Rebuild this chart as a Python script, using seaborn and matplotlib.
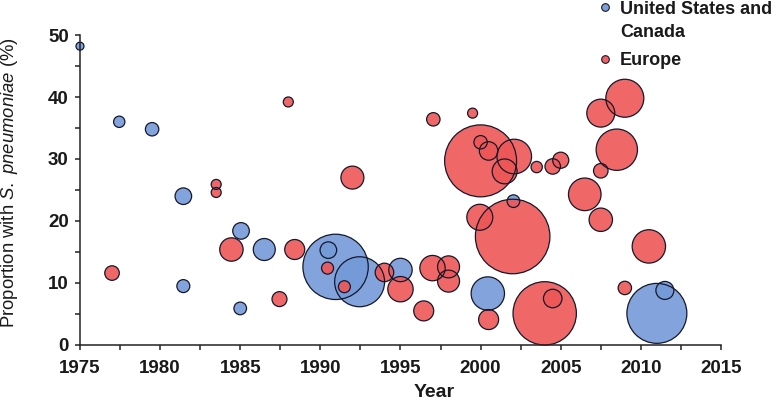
import numpy as np
import pandas as pd
import matplotlib
matplotlib.use("Agg")
import matplotlib.pyplot as plt
from matplotlib.lines import Line2D
from matplotlib.ticker import MultipleLocator
import seaborn as sns

# 1. Data: study year, proportion (%) and relative study size (bubble area)
regions = ["United States and Canada", "Europe"]

us_year = [1975.0, 1977.45, 1979.5, 1981.45, 1981.45, 1985.05, 1985.0, 1986.5,
           1990.95, 1992.45, 1990.5, 1995.0, 2000.45, 2002.05, 2011.0, 2011.5]
us_pct = [48.2, 36.0, 34.8, 24.0, 9.5, 18.4, 5.9, 15.4,
          12.6, 10.2, 15.3, 12.1, 8.3, 23.2, 5.1, 8.8]
us_size = [16, 32, 45, 69, 42, 69, 40, 121,
           1069, 625, 69, 137, 279, 40, 900, 81]

eu_year = [1977.0, 1983.5, 1983.5, 1984.45, 1987.45, 1988.0, 1988.4, 1990.45,
           1991.5, 1992.0, 1994.0, 1995.0, 1996.45, 1997.0, 1997.05, 1998.0,
           1998.0, 1999.5, 2000.0, 2000.0, 2000.5, 2002.1, 2001.5, 2003.5,
           2004.5, 2005.0, 1999.95, 2002.0, 2000.5, 2004.0, 2004.5, 2006.5,
           2007.5, 2007.5, 2009.0, 2008.5, 2007.5, 2010.5, 2009.0]
eu_pct = [11.6, 25.9, 24.6, 15.4, 7.4, 39.2, 15.4, 12.4,
          9.4, 27.0, 11.7, 9.0, 5.5, 12.4, 36.4, 12.6,
          10.3, 37.4, 29.7, 32.7, 31.3, 30.4, 28.0, 28.7,
          28.8, 29.8, 20.6, 17.5, 4.1, 5.1, 7.5, 24.3,
          20.2, 37.4, 39.8, 31.5, 28.1, 15.9, 9.2]
eu_size = [53, 25, 25, 137, 56, 25, 100, 36,
           36, 132, 86, 161, 100, 161, 45, 121,
           121, 25, 1296, 45, 86, 300, 155, 32,
           60, 65, 169, 1391, 100, 1005, 86, 266,
           137, 196, 361, 428, 53, 279, 45]

BLUE = "#7499D8"
RED = "#EE5656"
EDGE = "#15182a"

us = pd.DataFrame({"year": us_year, "pct": us_pct, "n": us_size}).sort_values("n", ascending=False)
eu = pd.DataFrame({"year": eu_year, "pct": eu_pct, "n": eu_size}).sort_values("n", ascending=False)
both = pd.concat([us, eu])

# 2. Style
sns.set_style("ticks")
plt.rcParams["font.family"] = ["Liberation Sans", "DejaVu Sans"]
plt.rcParams["mathtext.fontset"] = "custom"
plt.rcParams["mathtext.rm"] = "Liberation Sans"
plt.rcParams["mathtext.it"] = "Liberation Sans:italic"

fig, ax = plt.subplots(figsize=(7.78, 4.01), dpi=100)
fig.subplots_adjust(left=0.1028, right=0.9267, bottom=0.1397, top=0.9127)

# area in pt^2 proportional to study size
size_kw = dict(size="n", sizes=(0, 1500 * 2.07), size_norm=(0, 1500), legend=False)

sns.scatterplot(data=us, x="year", y="pct", color=BLUE, alpha=0.9, linewidth=0, ax=ax, **size_kw)
sns.scatterplot(data=eu, x="year", y="pct", color=RED, alpha=0.9, linewidth=0, ax=ax, **size_kw)
# outlines on top of all fills
sns.scatterplot(data=both, x="year", y="pct", facecolor="none", edgecolor=EDGE,
                linewidth=0.9, ax=ax, **size_kw)
for c in ax.collections:
    c.set_clip_on(False)

# 3. Axes
ax.set_xlim(1975, 2015)
ax.set_ylim(0, 50)
ax.xaxis.set_major_locator(MultipleLocator(5))
ax.xaxis.set_minor_locator(MultipleLocator(2.5))
ax.yaxis.set_major_locator(MultipleLocator(10))
ax.yaxis.set_minor_locator(MultipleLocator(5))
sns.despine(ax=ax)
for s in ["left", "bottom"]:
    ax.spines[s].set_linewidth(1.1)
    ax.spines[s].set_color("#222222")
ax.tick_params(which="both", direction="out", length=3.5, width=1.1, color="#222222")
ax.tick_params(axis="x", which="major", labelsize=13.5, pad=7, labelcolor="#1a1a1a")
ax.tick_params(axis="y", which="major", labelsize=13.5, pad=4.5, labelcolor="#1a1a1a")
plt.setp(ax.get_xticklabels() + ax.get_yticklabels(), fontweight="bold")

ax.set_xlabel("Year", fontsize=14, fontweight="bold", color="#1a1a1a")
ax.xaxis.set_label_coords(0.552, -0.127)
ax.set_ylabel(r"Proportion with $\mathit{S.\ pneumoniae}$ (%)", fontsize=13.3, color="#1a1a1a")
ax.yaxis.set_label_coords(-0.094, 0.523)

# 4. Legend
handles = [
    Line2D([], [], ls="none", marker="o", markersize=5.5, markerfacecolor="#7F9ED8",
           markeredgecolor=EDGE, markeredgewidth=0.8),
    Line2D([], [], ls="none", marker="o", markersize=5.5, markerfacecolor="#F06262",
           markeredgecolor=EDGE, markeredgewidth=0.8),
]
first_line, second_line = regions[0].rsplit(" ", 1)
leg = ax.legend(handles, [first_line, regions[1]], loc="upper left",
                bbox_to_anchor=(600 / 778, 0.998), bbox_transform=fig.transFigure,
                frameon=False, prop={"weight": "bold", "size": 13},
                handlelength=0.6, handletextpad=0.5, borderpad=0, borderaxespad=0,
                labelspacing=1.9)
for t in leg.get_texts():
    t.set_color("#1a1a1a")
ax.annotate(second_line, xy=(0, 0), xycoords=leg.get_texts()[0], xytext=(0, -4.5),
            textcoords="offset points", ha="left", va="top", fontsize=13,
            fontweight="bold", color="#1a1a1a", zorder=6)

plt.savefig("out.png", dpi=100)
